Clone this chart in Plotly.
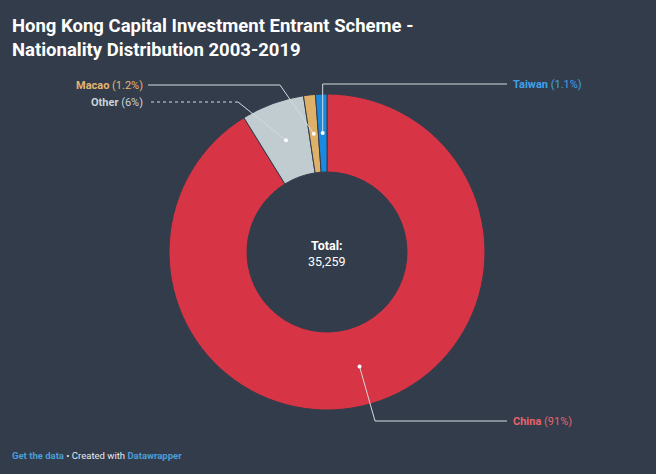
import math
import plotly.graph_objects as go

# ---- data ----
categories = ["China", "Other", "Macao", "Taiwan"]
values = [32150, 2270, 430, 409]
pct_labels = ["91%", "6%", "1.2%", "1.1%"]
total_label = "35,259"

# ---- style ----
W, H = 656, 474
BG = "#333c4b"
slice_colors = ["#d73445", "#c1ccd0", "#dfb168", "#1a8ae0"]
label_colors = ["#e8636b", "#c9d3d8", "#e3b56f", "#3ea3ea"]
line_color = "#d4dade"

cx, cy, R, RIN = 327, 252, 158, 80

fig = go.Figure()
fig.add_trace(go.Pie(
    labels=categories, values=values, sort=False, direction="clockwise",
    rotation=0, hole=RIN / R, textinfo="none", hoverinfo="skip",
    marker=dict(colors=slice_colors, line=dict(color=BG, width=1)),
    domain=dict(x=[(cx - R) / W, (cx + R) / W],
                y=[(H - cy - R) / H, (H - cy + R) / H]),
    showlegend=False,
))

def px(x):
    return x / W

def py(y):
    return 1 - y / H

# anchor points at the middle of each slice (from data)
tot = sum(values)
anchors = []
acc = 0
rm = (R + RIN) / 2
for v in values:
    mid = (acc + v / 2) / tot * 2 * math.pi
    anchors.append((cx + rm * math.sin(mid), cy - rm * math.cos(mid)))
    acc += v

# leader line routes: (corner point, end point, label anchor, xanchor, dash)
routes = {
    "China": ((375, 421), (507, 421), (511, 421), "left", "solid"),
    "Other": ((238, 102), (148, 102), (145, 102), "right", "dot"),
    "Macao": ((280, 85), (148, 85), (145, 85), "right", "solid"),
    "Taiwan": (None, (507, 84), (511, 84), "left", "solid"),
}

shapes = []
annotations = []
for i, cat in enumerate(categories):
    ax, ay = anchors[i]
    corner, end, lab, xa, dash = routes[cat]
    if corner is None:
        corner = (ax, end[1])
    shapes.append(dict(type="line", xref="paper", yref="paper", layer="above",
                       x0=px(ax), y0=py(ay), x1=px(corner[0]), y1=py(corner[1]),
                       line=dict(color=line_color, width=1, dash="solid")))
    shapes.append(dict(type="line", xref="paper", yref="paper", layer="above",
                       x0=px(corner[0]), y0=py(corner[1]), x1=px(end[0]), y1=py(end[1]),
                       line=dict(color=line_color, width=1.2 if dash == "dot" else 1, dash=dash)))
    shapes.append(dict(type="circle", xref="paper", yref="paper", layer="above",
                       x0=px(ax - 2), x1=px(ax + 2), y0=py(ay - 2), y1=py(ay + 2),
                       fillcolor="white", line=dict(width=0)))
    annotations.append(dict(
        xref="paper", yref="paper", x=px(lab[0]), y=py(lab[1]),
        xanchor=xa, yanchor="middle", showarrow=False,
        text=f"<b>{cat}</b> ({pct_labels[i]})",
        font=dict(family="Roboto", size=11, color=label_colors[i]),
    ))

# title
annotations.append(dict(
    xref="paper", yref="paper", x=px(10), y=py(13), xanchor="left", yanchor="top",
    showarrow=False, align="left",
    text="<b>Hong Kong Capital Investment Entrant Scheme -<br>Nationality Distribution 2003-2019</b>",
    font=dict(family="Roboto", size=18.5, color="white"),
))
# center total
annotations.append(dict(
    xref="paper", yref="paper", x=px(cx), y=py(253), xanchor="center", yanchor="middle",
    showarrow=False, align="center",
    text=f"<b>Total:</b><br>{total_label}",
    font=dict(family="Roboto", size=12.5, color="white"),
))
# footer
annotations.append(dict(
    xref="paper", yref="paper", x=px(10), y=py(455), xanchor="left", yanchor="middle",
    showarrow=False,
    text="<span style='color:#4a9fd6'><b>Get the data</b></span> • Created with "
         "<span style='color:#4a9fd6'><b>Datawrapper</b></span>",
    font=dict(family="Roboto", size=9.5, color="#e6e9ed"),
))

fig.update_layout(
    width=W, height=H, paper_bgcolor=BG, plot_bgcolor=BG,
    margin=dict(l=0, r=0, t=0, b=0),
    shapes=shapes, annotations=annotations,
)

fig.write_html("out.html")
